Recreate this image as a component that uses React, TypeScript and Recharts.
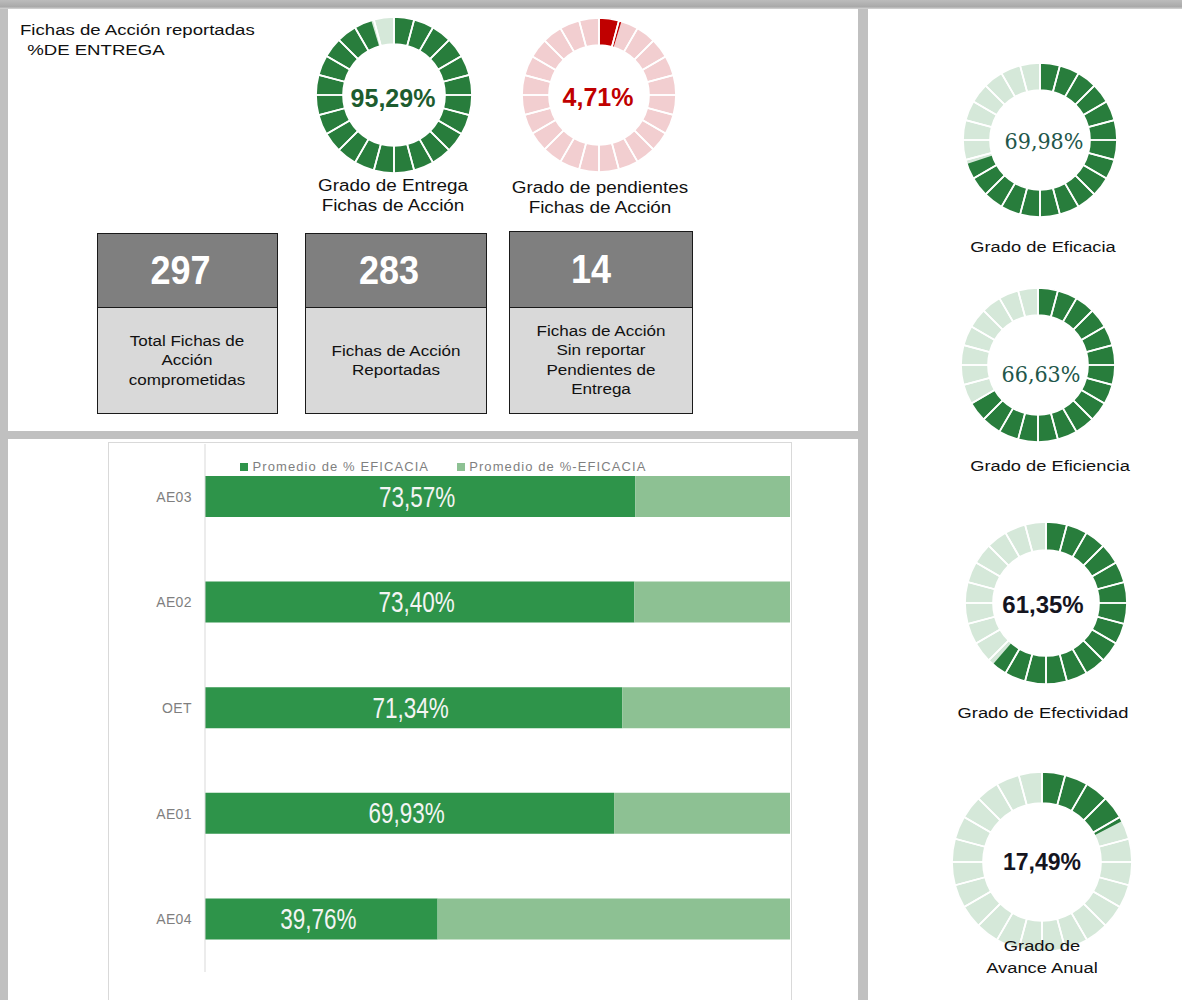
import React from 'react';
import { PieChart, Pie, Cell, BarChart, Bar, XAxis, YAxis, Legend, LabelList } from 'recharts';

const ARIAL = "'Liberation Sans', Arial, sans-serif";
const SERIF = "'DejaVu Serif Condensed', 'DejaVu Serif', serif";

// top block: delivery of action sheets
const DELIVERY_LABELS = ['Grado de Entrega\nFichas de Acción', 'Grado de pendientes\nFichas de Acción'];
const DELIVERY_VALUES = [95.29, 4.71];
const COUNT_VALUES = [297, 283, 14];
const COUNT_LABELS = [
  'Total Fichas de\nAcción\ncomprometidas',
  'Fichas de Acción\nReportadas',
  'Fichas de Acción\nSin reportar\nPendientes de\nEntrega',
];

// right column: grades
const GRADE_LABELS = ['Grado de Eficacia', 'Grado de Eficiencia', 'Grado de Efectividad', 'Grado de\nAvance Anual'];
const GRADE_VALUES = [69.98, 66.63, 61.35, 17.49];

// bar chart: efficacy per unit
const UNIT_CATEGORIES = ['AE03', 'AE02', 'OET', 'AE01', 'AE04'];
const EFFICACY_VALUES = [73.57, 73.4, 71.34, 69.93, 39.76];

const GREEN = '#287d3c';
const GREEN_LIGHT = '#d5e8d9';
const RED = '#c00000';
const PINK = '#f2ced0';

const SEGMENTS = Array.from({ length: 24 }, (_, i) => ({ id: i, v: 1 }));
const pct = (v: number) => `${v.toFixed(2).replace('.', ',')}%`;

const Ring = ({ cx, cy, outer, inner, value, dark, light }: {
  cx: number; cy: number; outer: number; inner: number; value: number; dark: string; light: string;
}) => {
  const size = outer * 2 + 4;
  const filled = [{ v: value }, { v: 100 - value }];
  const common = {
    dataKey: 'v', cx: '50%', cy: '50%', innerRadius: inner, outerRadius: outer,
    startAngle: 90, endAngle: -270, isAnimationActive: false,
  };
  return (
    <div style={{ position: 'absolute', left: cx - size / 2, top: cy - size / 2 }}>
      <PieChart width={size} height={size} margin={{ top: 0, right: 0, bottom: 0, left: 0 }}>
        <Pie {...common} data={SEGMENTS} fill={light} stroke="none" />
        <Pie {...common} data={filled} stroke="none">
          <Cell fill={dark} />
          <Cell fill="transparent" />
        </Pie>
        <Pie {...common} data={SEGMENTS} fill="none" stroke="#ffffff" strokeWidth={1.7} />
      </PieChart>
    </div>
  );
};

const Txt = ({ x, y, children, size = 16, color = '#111', weight = 400, family = ARIAL, stretch = 1.18, left = false, lh = 1.22 }: {
  x: number; y: number; children: React.ReactNode; size?: number; color?: string; weight?: number;
  family?: string; stretch?: number; left?: boolean; lh?: number;
}) => (
  <div style={{
    position: 'absolute', left: x, top: y, whiteSpace: 'pre', textAlign: left ? 'left' : 'center',
    fontSize: size, fontWeight: weight, color, fontFamily: family, lineHeight: lh,
    transform: `translate(${left ? 0 : -50}%, -50%) scaleX(${stretch})`,
    transformOrigin: left ? 'left center' : 'center center',
  }}>
    {children}
  </div>
);

const BarValueLabel = (props: any) => {
  const { x, y, width, height, value } = props;
  const cx = x + width / 2 - 3;
  const cy = y + height / 2;
  return (
    <text x={cx} y={cy} textAnchor="middle" dominantBaseline="central" fill="#f4f4f4"
      fontSize={22.5} fontFamily={ARIAL}
      transform={`translate(0 ${cy}) scale(1 1.3) translate(0 ${-cy})`}>
      {pct(value)}
    </text>
  );
};

const BOXES = [
  { left: 97, top: 233, w: 181, h: 181, head: 74, shift: 14 },
  { left: 305, top: 233, w: 182, h: 181, head: 74, shift: 14 },
  { left: 509, top: 231, w: 184, h: 183, head: 76, shift: 20 },
];

const GRADE_RINGS = [
  { cx: 1040, cy: 140, outer: 77, inner: 50, tx: 1044, ty: 141, ly: 247, lx: 1043 },
  { cx: 1038, cy: 365, outer: 77, inner: 50, tx: 1041, ty: 374, ly: 466, lx: 1050 },
  { cx: 1046, cy: 603, outer: 81, inner: 53, tx: 1043, ty: 605, ly: 713, lx: 1043 },
  { cx: 1042, cy: 862, outer: 90, inner: 59, tx: 1042, ty: 862, ly: 957, lx: 1042 },
];
const GRADE_TEXT = [
  { family: SERIF, weight: 400, color: '#22564a', size: 23 },
  { family: SERIF, weight: 400, color: '#22564a', size: 23 },
  { family: ARIAL, weight: 700, color: '#15151f', size: 24 },
  { family: ARIAL, weight: 700, color: '#15151f', size: 23 },
];

const barData = UNIT_CATEGORIES.map((name, i) => ({
  name, value: EFFICACY_VALUES[i], rest: 100 - EFFICACY_VALUES[i],
}));

export default function App() {
  return (
    <div style={{
      position: 'absolute', left: 0, top: 0, width: 1182, height: 1000, overflow: 'hidden',
      background: '#c0c0c0', fontFamily: ARIAL,
    }}>
      <div style={{ position: 'absolute', left: 0, top: 0, width: 1182, height: 9, background: 'linear-gradient(#bcbcbc, #a9a9a9 75%, #d6d6d6)' }} />
      <div style={{ position: 'absolute', left: 8, top: 9, width: 850, height: 422, background: '#fff' }} />
      <div style={{ position: 'absolute', left: 8, top: 439, width: 850, height: 561, background: '#fff' }} />
      <div style={{ position: 'absolute', left: 868, top: 9, width: 314, height: 991, background: '#fff' }} />

      <Txt x={20} y={30} left size={15.5} stretch={1.2}>Fichas de Acción reportadas</Txt>
      <Txt x={22} y={50} left size={15.5} stretch={1.2}>{' %DE ENTREGA'}</Txt>

      <Ring cx={394} cy={95} outer={78} inner={51} value={DELIVERY_VALUES[0]} dark={GREEN} light={GREEN_LIGHT} />
      <Txt x={393} y={98} size={25} weight={700} color="#1d5c2f" stretch={1}>{pct(DELIVERY_VALUES[0])}</Txt>
      <Txt x={393} y={196} size={16} lh={1.22}>{DELIVERY_LABELS[0]}</Txt>

      <Ring cx={599} cy={95} outer={77} inner={50} value={DELIVERY_VALUES[1]} dark={RED} light={PINK} />
      <Txt x={598} y={97} size={25} weight={700} color={RED} stretch={1}>{pct(DELIVERY_VALUES[1])}</Txt>
      <Txt x={600} y={198} size={16} lh={1.22}>{DELIVERY_LABELS[1]}</Txt>

      {BOXES.map((b, i) => (
        <div key={i} style={{
          position: 'absolute', left: b.left, top: b.top, width: b.w, height: b.h, boxSizing: 'border-box',
          border: '1.5px solid #1a1a1a', background: '#d9d9d9',
        }}>
          <div style={{
            height: b.head, background: '#7f7f7f', borderBottom: '1.5px solid #1a1a1a', boxSizing: 'border-box',
            display: 'flex', alignItems: 'center', justifyContent: 'center', paddingRight: b.shift,
            color: '#fff', fontWeight: 700, fontSize: 36, fontFamily: ARIAL,
          }}>
            <span style={{ display: 'inline-block', transform: 'scale(1, 1.12)' }}>{COUNT_VALUES[i]}</span>
          </div>
          <div style={{ position: 'relative', height: b.h - b.head - 3 }}>
            <Txt x={(b.w - 3) / 2} y={(b.h - b.head - 3) / 2} size={15.5} stretch={1.1} lh={1.25} color="#111">
              {COUNT_LABELS[i]}
            </Txt>
          </div>
        </div>
      ))}

      {GRADE_RINGS.map((r, i) => (
        <React.Fragment key={i}>
          <Ring cx={r.cx} cy={r.cy} outer={r.outer} inner={r.inner} value={GRADE_VALUES[i]} dark={GREEN} light={GREEN_LIGHT} />
          <Txt x={r.tx} y={r.ty} size={GRADE_TEXT[i].size} weight={GRADE_TEXT[i].weight} color={GRADE_TEXT[i].color}
            family={GRADE_TEXT[i].family} stretch={1}>
            {pct(GRADE_VALUES[i])}
          </Txt>
          <Txt x={r.lx} y={r.ly} size={15.5} lh={1.4}>{GRADE_LABELS[i]}</Txt>
        </React.Fragment>
      ))}

      <div style={{
        position: 'absolute', left: 108, top: 442, width: 684, height: 600,
        border: '1px solid #d9d9d9', boxSizing: 'border-box', background: '#fff',
      }}>
        <BarChart width={682} height={560} data={barData} layout="vertical"
          margin={{ top: 1, right: 1, bottom: 31, left: 0 }}>
          <XAxis type="number" domain={[0, 100]} hide />
          <YAxis type="category" dataKey="name" width={96} axisLine={{ stroke: '#d9d9d9' }} tickLine={false}
            tickMargin={7} tick={{ fill: '#7f7f7f', fontSize: 14, fontFamily: ARIAL, letterSpacing: 0.4 }} />
          <Legend verticalAlign="middle" align="center" iconType="square" iconSize={8}
            wrapperStyle={{ top: 14, left: 8 }}
            formatter={(v: string) => (
              <span style={{ color: '#7f7f7f', fontSize: 13, letterSpacing: 1.1, marginRight: 18, fontFamily: ARIAL }}>{v}</span>
            )} />
          <Bar dataKey="value" stackId="a" name="Promedio de % EFICACIA" fill="#2e944a" barSize={41} isAnimationActive={false}>
            <LabelList dataKey="value" position="center" content={BarValueLabel} />
          </Bar>
          <Bar dataKey="rest" stackId="a" name="Promedio de %-EFICACIA" fill="#8dc193" barSize={41} isAnimationActive={false} />
        </BarChart>
      </div>
    </div>
  );
}
